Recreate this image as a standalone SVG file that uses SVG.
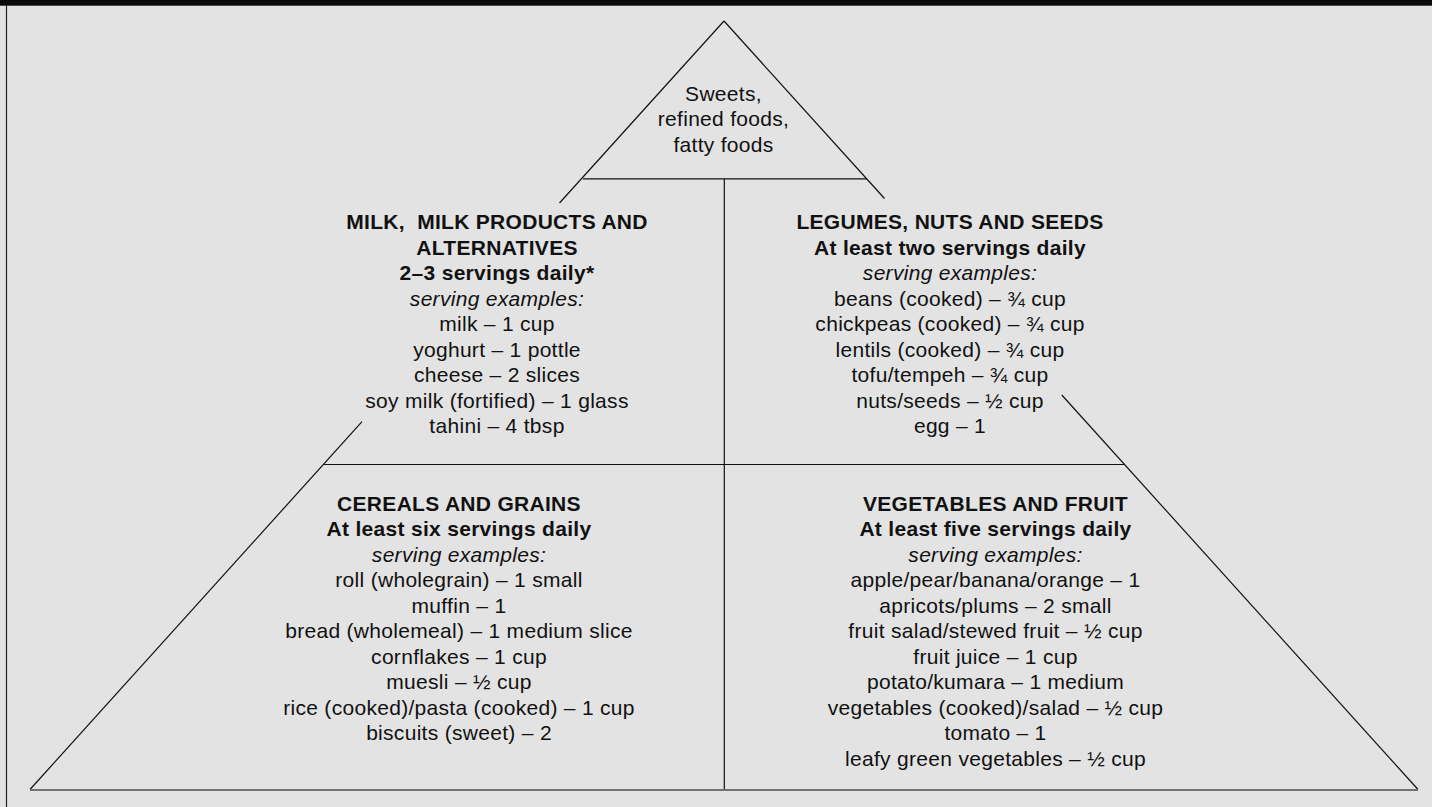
<svg xmlns="http://www.w3.org/2000/svg" width="1432" height="807" viewBox="0 0 1432 807">
<style>
.bg{fill:#e3e3e3}
.ln{stroke:#111;stroke-width:1.2;fill:none}
.base{stroke:#737373;stroke-width:2;fill:none}
text{font-family:"Liberation Sans",Arial,sans-serif;font-size:21px;fill:#111;text-anchor:middle;letter-spacing:0.3px}
.b{font-weight:bold}
.i{font-style:italic}
</style>
<rect class="bg" x="0" y="0" width="1432" height="807"/>
<rect x="0" y="0" width="1432" height="5.7" fill="#0a0a0a"/>
<line x1="6.5" y1="5" x2="6.5" y2="807" stroke="#222" stroke-width="1.2"/>
<g id="connectors">
<line class="ln" x1="724" y1="21" x2="559.5" y2="203"/>
<line class="ln" x1="362" y1="421.7" x2="30" y2="789.5"/>
<line class="ln" x1="724" y1="21" x2="884.5" y2="198.5"/>
<line class="ln" x1="1061.8" y1="395" x2="1418" y2="789.5"/>
<line class="ln" x1="583" y1="178.8" x2="867" y2="178.8"/>
<line class="ln" x1="323.5" y1="464.5" x2="1124.5" y2="464.5"/>
<line class="ln" x1="724.3" y1="178.8" x2="724.3" y2="789"/>
<line class="base" x1="30" y1="790" x2="1418" y2="790"/>
</g>
<g id="top">
<text x="723.5" y="100.7">Sweets,</text>
<text x="723.5" y="126.2">refined foods,</text>
<text x="723.5" y="151.7">fatty foods</text>
</g>
<g id="milk">
<text class="b" x="497" y="229" xml:space="preserve">MILK,  MILK PRODUCTS AND</text>
<text class="b" x="497" y="254.5">ALTERNATIVES</text>
<text class="b" x="497" y="280">2–3 servings daily*</text>
<text class="i" x="497" y="305.5">serving examples:</text>
<text x="497" y="331">milk – 1 cup</text>
<text x="497" y="356.5">yoghurt – 1 pottle</text>
<text x="497" y="382">cheese – 2 slices</text>
<text x="497" y="407.5">soy milk (fortified) – 1 glass</text>
<text x="497" y="433">tahini – 4 tbsp</text>
</g>
<g id="legumes">
<text class="b" x="950" y="229">LEGUMES, NUTS AND SEEDS</text>
<text class="b" x="950" y="254.5">At least two servings daily</text>
<text class="i" x="950" y="280">serving examples:</text>
<text x="950" y="305.5">beans (cooked) – ¾ cup</text>
<text x="950" y="331">chickpeas (cooked) – ¾ cup</text>
<text x="950" y="356.5">lentils (cooked) – ¾ cup</text>
<text x="950" y="382">tofu/tempeh – ¾ cup</text>
<text x="950" y="407.5">nuts/seeds – ½ cup</text>
<text x="950" y="433">egg – 1</text>
</g>
<g id="cereals">
<text class="b" x="459" y="510.7">CEREALS AND GRAINS</text>
<text class="b" x="459" y="536.2">At least six servings daily</text>
<text class="i" x="459" y="561.7">serving examples:</text>
<text x="459" y="587.2">roll (wholegrain) – 1 small</text>
<text x="459" y="612.7">muffin – 1</text>
<text x="459" y="638.2">bread (wholemeal) – 1 medium slice</text>
<text x="459" y="663.7">cornflakes – 1 cup</text>
<text x="459" y="689.2">muesli – ½ cup</text>
<text x="459" y="714.7">rice (cooked)/pasta (cooked) – 1 cup</text>
<text x="459" y="740.2">biscuits (sweet) – 2</text>
</g>
<g id="vegetables">
<text class="b" x="995.5" y="510.7">VEGETABLES AND FRUIT</text>
<text class="b" x="995.5" y="536.2">At least five servings daily</text>
<text class="i" x="995.5" y="561.7">serving examples:</text>
<text x="995.5" y="587.2">apple/pear/banana/orange – 1</text>
<text x="995.5" y="612.7">apricots/plums – 2 small</text>
<text x="995.5" y="638.2">fruit salad/stewed fruit – ½ cup</text>
<text x="995.5" y="663.7">fruit juice – 1 cup</text>
<text x="995.5" y="689.2">potato/kumara – 1 medium</text>
<text x="995.5" y="714.7">vegetables (cooked)/salad – ½ cup</text>
<text x="995.5" y="740.2">tomato – 1</text>
<text x="995.5" y="765.7">leafy green vegetables – ½ cup</text>
</g>
</svg>
